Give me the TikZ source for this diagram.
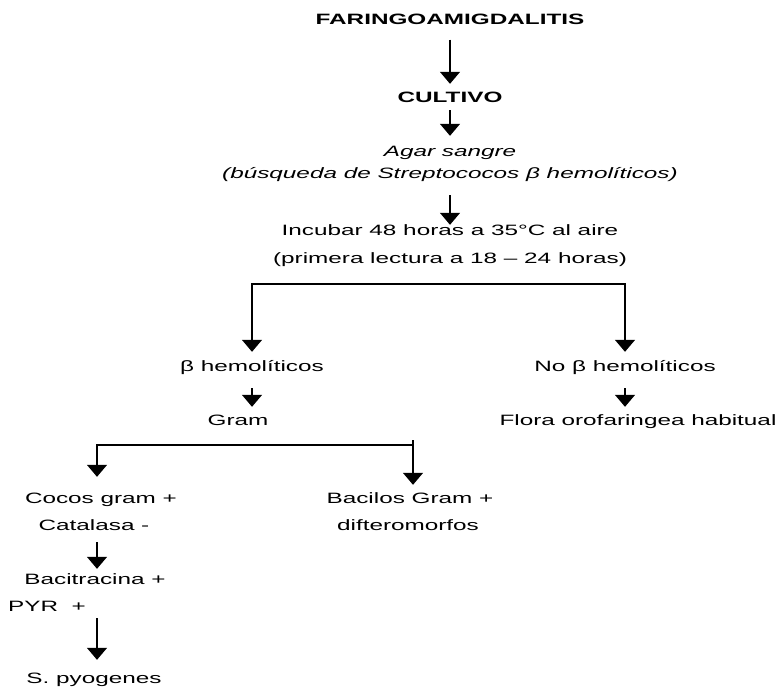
\documentclass[tikz,border=0pt]{standalone}
\usepackage{fontspec}
\usetikzlibrary{arrows.meta}
\newfontfamily\flujo{Liberation Sans}[FakeStretch=1.62]

\begin{document}
\begin{tikzpicture}[x=1pt,y=-1pt,
        every node/.style={inner sep=0pt,text height=10pt,text depth=3pt,font=\flujo\fontsize{15}{17}\selectfont},
        arr/.style={line width=1.3pt,-{Triangle[width=20pt,length=12pt]}}]
        \useasboundingbox (0,0) rectangle (779,696);
        % columna principal
        \node (fari) at (450,21) {\bfseries FARINGOAMIGDALITIS};
        \node (cult) at (450,99) {\bfseries CULTIVO};
        \node (agar) at (450,153) {\itshape Agar sangre};
        \node (busq) at (450,175) {\itshape (búsqueda de Streptococos β hemolíticos)};
        \node (incu) at (450,232) {Incubar 48 horas a 35°C al aire};
        \node (prim) at (450,260) {(primera lectura a 18 – 24 horas)};
        % ramas
        \node (bhem) at (252,368) {β hemolíticos};
        \node (nobh) at (625,368) {No β hemolíticos};
        \node (gram) at (238,422) {Gram};
        \node (flora) at (638,422) {Flora orofaringea habitual};
        \node (cocos) at (101,500) {Cocos gram +};
        \node (cata) at (94,527) {Catalasa -};
        \node (bact) at (95,581) {Bacitracina +};
        \node[anchor=west] (pyr) at (8,608) {PYR\ \ +};
        \node (spyo) at (94,680) {S. pyogenes};
        \node (baci) at (410,500) {Bacilos Gram +};
        \node (dift) at (408,527) {difteromorfos};
        \coordinate (split) at (450,284);
        \coordinate (gl) at (97,445);
        \coordinate (gr) at (413,440);
        % flechas
        \draw[arr,shorten <=12pt,shorten >=8.5pt] (fari.south) -- (fari.south |- cult.north);
        \draw[arr,shorten <=4.5pt,shorten >=10.5pt] (cult.south) -- (cult.south |- agar.north);
        \draw[arr,shorten <=13.5pt,shorten >=0.5pt] (busq.south) -- (busq.south |- incu.north);
        \draw[arr,shorten >=9.5pt] (split) -| (bhem.north);
        \draw[arr,shorten >=9.5pt] (split) -| (nobh.north);
        \draw[arr,shorten <=13.5pt,shorten >=8.5pt] (bhem.south) -- (bhem.south |- gram.north);
        \draw[arr,shorten <=13.5pt,shorten >=8.5pt] (nobh.south) -- (nobh.south |- flora.north);
        \draw[arr,shorten >=16.5pt] (gr) |- (gl) -- (gl |- cocos.north);
        \draw[arr,shorten >=8.5pt] (gr) -- (gr |- baci.north);
        \draw[arr,shorten <=8.5pt,shorten >=5.5pt] (gl |- cata.south) -- (gl |- bact.north);
        \draw[arr,shorten <=3.5pt,shorten >=13.5pt] (gl |- pyr.south) -- (gl |- spyo.north);
\end{tikzpicture}
\end{document}
